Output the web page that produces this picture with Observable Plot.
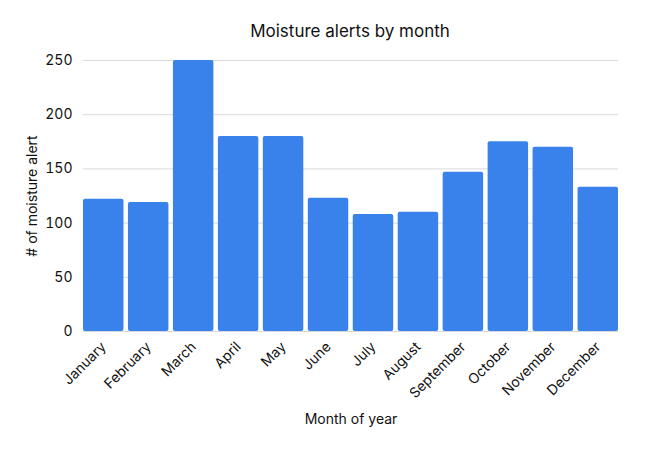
<!DOCTYPE html>
<html>
<head>
<meta charset="utf-8">
<script src="https://cdn.jsdelivr.net/npm/d3@7"></script>
<script src="https://cdn.jsdelivr.net/npm/@observablehq/plot@0.6"></script>
<style>
  html, body { margin: 0; padding: 0; background: #fff; }
  body { width: 645px; height: 452px; overflow: hidden; font-family: Inter, "Noto Sans", sans-serif; }
  #title { height: 48px; box-sizing: border-box; padding-top: 20px; text-align: center; font-size: 17px; color: #111; padding-left: 55px; line-height: 22px; }
</style>
</head>
<body>
<div id="title">Moisture alerts by month</div>
<div id="chart"></div>
<script>
const months = ["January","February","March","April","May","June","July","August","September","October","November","December"];
const alerts = [122, 119, 250, 180, 180, 123, 108, 110, 147, 175, 170, 133];
const yTicks = [0, 50, 100, 150, 200, 250];

const data = months.map((m, i) => ({month: m, value: alerts[i]}));

const chart = Plot.plot({
  width: 645,
  height: 404,
  marginTop: 12,
  marginLeft: 83,
  marginRight: 27,
  marginBottom: 121,
  style: {fontFamily: "Inter, 'Noto Sans', sans-serif", fontSize: "14px", color: "#111", background: "#fff"},
  x: {domain: months, paddingInner: 0.1, paddingOuter: 0, round: false},
  y: {domain: [0, 250]},
  marks: [
    Plot.gridY(yTicks, {stroke: "#d9d9d9", strokeOpacity: 1}),
    Plot.barY(data, {x: "month", y: "value", fill: "#3982ec", rx: 2}),
    Plot.axisY(yTicks, {tickSize: 0, tickPadding: 11, fontSize: 14, label: "# of moisture alert", labelAnchor: "center", labelOffset: 56, labelArrow: "none"}),
    Plot.axisX({tickSize: 0, tickPadding: 13, tickRotate: -45, fontSize: 14, label: "Month of year", labelAnchor: "center", labelOffset: 92, labelArrow: "none"})
  ]
});
document.getElementById("chart").appendChild(chart);
</script>
</body>
</html>
